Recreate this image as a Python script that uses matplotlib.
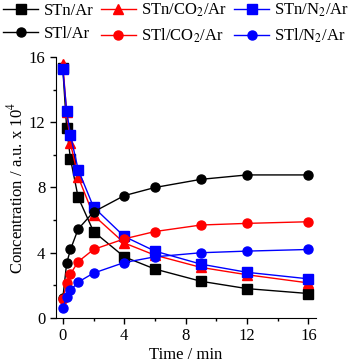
import matplotlib.pyplot as plt
import numpy as np

plt.rcParams['font.family'] = ['Liberation Serif', 'DejaVu Serif']
plt.rcParams['mathtext.fontset'] = 'stix'

# time points, min
time = [0, 0.25, 0.5, 1, 2, 4, 6, 9, 12, 16]

# concentrations, a.u. x 10^4
stn_ar = [15.3, 11.65, 9.75, 7.4, 5.3, 3.75, 3.0, 2.25, 1.8, 1.5]
stn_co2 = [15.55, 12.6, 10.7, 8.65, 6.3, 4.6, 3.85, 3.1, 2.65, 2.15]
stn_n2 = [15.25, 12.7, 11.2, 9.1, 6.8, 5.0, 4.1, 3.3, 2.8, 2.4]
stl_ar = [1.2, 3.35, 4.2, 5.45, 6.5, 7.5, 8.0, 8.5, 8.77, 8.77]
stl_co2 = [1.15, 2.15, 2.7, 3.45, 4.2, 4.85, 5.3, 5.7, 5.8, 5.9]
stl_n2 = [0.6, 1.3, 1.7, 2.2, 2.75, 3.4, 3.75, 4.0, 4.1, 4.2]

fig = plt.figure(figsize=(3.56, 3.63), dpi=100)
ax = fig.add_axes([0.157, 0.124, 0.731, 0.719])

ms = 6.5
series = [
    (stn_ar, 'black', 's', 'STn/Ar'),
    (stn_co2, 'red', '^', 'STn/CO$_2$/Ar'),
    (stn_n2, 'blue', 's', 'STn/N$_2$/Ar'),
    (stl_ar, 'black', 'o', 'STl/Ar'),
    (stl_co2, 'red', 'o', 'STl/CO$_2$/Ar'),
    (stl_n2, 'blue', 'o', 'STl/N$_2$/Ar'),
]
lines = {}
for vals, col, mk, lab in series:
    ln, = ax.plot(time, vals, color=col, marker=mk, markersize=ms,
                  linewidth=1.0, label=lab)
    lines[lab] = ln

ax.set_xlim(-0.45, 16.5)
ax.set_ylim(0, 16)
ax.set_xticks([0, 4, 8, 12, 16])
ax.set_yticks([0, 4, 8, 12, 16])
ax.set_xticks([2, 6, 10, 14], minor=True)
ax.set_yticks([2, 6, 10, 14], minor=True)
ax.tick_params(labelsize=12, direction='out', length=4, width=1)
ax.tick_params(which='minor', direction='out', length=2.5, width=1)
ax.spines['top'].set_visible(False)
ax.spines['right'].set_visible(False)
ax.set_xlabel('Time / min', fontsize=12, labelpad=2)
ax.set_ylabel('Concentration / a.u. x 10$^4$', fontsize=12, labelpad=2)

order = ['STn/Ar', 'STl/Ar', 'STn/CO$_2$/Ar', 'STl/CO$_2$/Ar',
         'STn/N$_2$/Ar', 'STl/N$_2$/Ar']
fig.legend([lines[k] for k in order], order, ncol=3, loc='upper left',
           bbox_to_anchor=(0.005, 1.0), frameon=False, fontsize=12,
           handlelength=2.1, handletextpad=0.3, columnspacing=0.45,
           labelspacing=0.45, borderaxespad=0.0, borderpad=0.1)

fig.savefig('out.png', dpi=100)
